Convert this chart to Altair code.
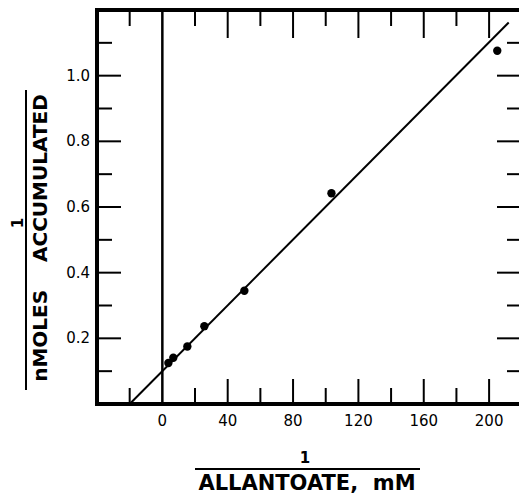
import altair as alt
import pandas as pd

# data
pt_x = [3.7, 6.7, 15.3, 25.7, 50.2, 103.5, 205.0]
pt_y = [0.125, 0.141, 0.175, 0.237, 0.345, 0.642, 1.076]
fit_x = [-20.0, 212.0]
fit_y = [0.0, 1.162]

x_labels = [0, 40, 80, 120, 160, 200]
x_label_text = ["0", "40", "80", "120", "160", "200"]
x_major = [40, 80, 120, 160, 200]
x_minor = [-20, 20, 60, 100, 140, 180]
y_labels = [0.2, 0.4, 0.6, 0.8, 1.0]
y_label_text = ["0.2", "0.4", "0.6", "0.8", "1.0"]
y_major = [0.2, 0.4, 0.6, 0.8, 1.0]
y_minor = [0.1, 0.3, 0.5, 0.7, 0.9, 1.1]

NB = "\u00a0"
x_title = "ALLANTOATE," + NB * 2 + "mM"
y_title = "nMOLES" + NB * 4 + "ACCUMULATED"

W, H = 422, 394
FONT = "DejaVu Sans"

xs = alt.Scale(domain=[-40, 218.3], nice=False, zero=False)
ys = alt.Scale(domain=[0, 1.2], nice=False, zero=False)

pts = pd.DataFrame({"x": pt_x, "y": pt_y})
fit = pd.DataFrame({"x": fit_x, "y": fit_y})

base_pts = alt.Chart(pts).mark_circle(size=70, color="black", opacity=1).encode(
    x=alt.X("x:Q", scale=xs, axis=None),
    y=alt.Y("y:Q", scale=ys, axis=None),
)

line = alt.Chart(fit).mark_line(color="black", strokeWidth=2).encode(
    x=alt.X("x:Q", scale=xs, axis=None), y=alt.Y("y:Q", scale=ys, axis=None))

def xticks(vals, y0, y1):
    return alt.Chart(pd.DataFrame({"v": vals})).mark_rule(color="black", strokeWidth=2).encode(
        x=alt.X("v:Q", scale=xs, axis=None), y=alt.value(y0), y2=alt.value(y1))

def yticks(vals, x0, x1):
    return alt.Chart(pd.DataFrame({"v": vals})).mark_rule(color="black", strokeWidth=2).encode(
        y=alt.Y("v:Q", scale=ys, axis=None), x=alt.value(x0), x2=alt.value(x1))

ticks = [
    xticks(x_major, H, H - 25), xticks(x_minor, H, H - 16),
    xticks(x_major, 0, 28), xticks(x_minor, 0, 16),
    yticks(y_major, 0, 24), yticks(y_minor, 0, 15),
    yticks(y_major, W - 22, W), yticks(y_minor, W - 12, W),
]

x_lab = alt.Chart(pd.DataFrame({"v": x_labels, "t": x_label_text})).mark_text(
    font=FONT, fontSize=15, color="black", baseline="middle", align="center").encode(
    x=alt.X("v:Q", scale=xs, axis=None), y=alt.value(H + 17), text="t:N")
y_lab = alt.Chart(pd.DataFrame({"v": y_labels, "t": y_label_text})).mark_text(
    font=FONT, fontSize=15, color="black", baseline="middle", align="right").encode(
    y=alt.Y("v:Q", scale=ys, axis=None), x=alt.value(-7), text="t:N")

zero_line = alt.Chart(pd.DataFrame({"v": [0]})).mark_rule(color="black", strokeWidth=2.5).encode(
    x=alt.X("v:Q", scale=xs, axis=None), y=alt.value(0), y2=alt.value(H))

frame = pd.DataFrame({"v": [0]})
top_border = alt.Chart(frame).mark_rule(color="black", strokeWidth=4).encode(
    x=alt.value(-2), x2=alt.value(W), y=alt.value(0))
bottom_border = alt.Chart(frame).mark_rule(color="black", strokeWidth=4).encode(
    x=alt.value(-2), x2=alt.value(W), y=alt.value(H))
left_border = alt.Chart(frame).mark_rule(color="black", strokeWidth=4).encode(
    x=alt.value(0), y=alt.value(-2), y2=alt.value(H + 2))

one = pd.DataFrame({"t": ["1"]})
xt_num = alt.Chart(one).mark_text(font=FONT, fontSize=15, fontWeight="bold", color="black").encode(
    text="t:N", x=alt.value(208), y=alt.value(448))
xt_bar = alt.Chart(one).mark_rule(color="black", strokeWidth=2).encode(
    x=alt.value(98), x2=alt.value(323), y=alt.value(459))
xt_den = alt.Chart(pd.DataFrame({"t": [x_title]})).mark_text(
    font=FONT, fontSize=21, fontWeight="bold", color="black").encode(
    text="t:N", x=alt.value(210), y=alt.value(474))

yt_num = alt.Chart(one).mark_text(font=FONT, fontSize=15, fontWeight="bold", color="black", angle=270).encode(
    text="t:N", x=alt.value(-79), y=alt.value(213))
yt_bar = alt.Chart(one).mark_rule(color="black", strokeWidth=2).encode(
    x=alt.value(-71), y=alt.value(80), y2=alt.value(380))
yt_den = alt.Chart(pd.DataFrame({"t": [y_title]})).mark_text(
    font=FONT, fontSize=20, fontWeight="bold", color="black", angle=270).encode(
    text="t:N", x=alt.value(-56), y=alt.value(228))

chart = alt.layer(
    base_pts, line, zero_line, top_border, bottom_border, left_border, *ticks,
    x_lab, y_lab,
    xt_num, xt_bar, xt_den, yt_num, yt_bar, yt_den
).properties(
    width=W, height=H,
    autosize=alt.AutoSizeParams(type="none"),
    padding={"left": 97, "top": 10, "right": 0, "bottom": 90},
    background="white",
).configure_view(stroke=None)

chart.save("out.html", embed_options={"renderer": "svg", "actions": False})
